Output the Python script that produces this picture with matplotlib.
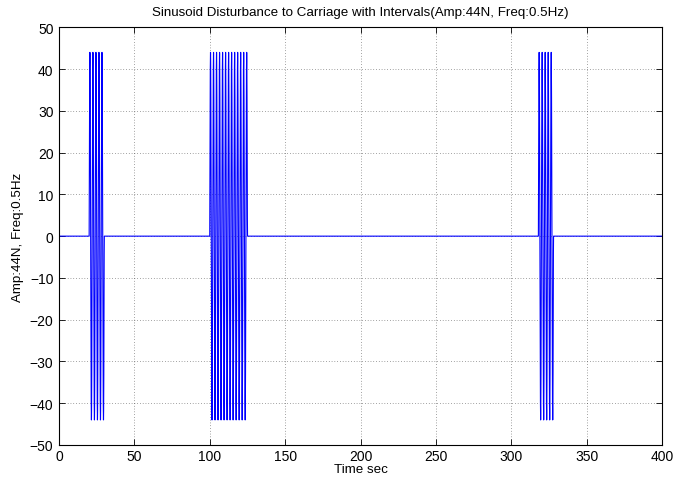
import numpy as np
import matplotlib
matplotlib.use("Agg")
import matplotlib.pyplot as plt

# Data
burst_start = [20, 100, 318]   # s
burst_end = [30, 125, 328]     # s
amplitude = 44.0               # N
frequency = 0.5                # Hz
t_end = 400
x_ticks = [0, 50, 100, 150, 200, 250, 300, 350, 400]
y_ticks = [-50, -40, -30, -20, -10, 0, 10, 20, 30, 40, 50]

plt.rcParams['font.family'] = ['Liberation Sans', 'DejaVu Sans']

t = np.arange(0, t_end + 1e-9, 0.01)
signal = np.zeros_like(t)
for s, e in zip(burst_start, burst_end):
    m = (t >= s) & (t <= e)
    signal[m] = amplitude * np.sin(2 * np.pi * frequency * (t[m] - s))

fig = plt.figure(figsize=(6.75, 4.85), dpi=100)
ax = fig.add_axes([59 / 675, 1 - 446 / 485, 603 / 675, (446 - 28.3) / 485])
ax.plot(t, signal, color=(0, 0, 1), linewidth=0.8)
ax.set_xlim(0, 400)
ax.set_ylim(-50, 50)
ax.set_xticks(x_ticks)
ax.set_yticks(y_ticks)
ax.grid(True, linestyle=(0, (1, 3)), color='black', linewidth=0.5, alpha=0.7)
ax.tick_params(direction='in', top=True, right=True, labelsize=10, length=4, width=0.6)
ax.tick_params(axis='x', pad=3)
ax.tick_params(axis='y', pad=4)
for sp in ax.spines.values():
    sp.set_linewidth(0.8)
ax.set_title('Sinusoid Disturbance to Carriage with Intervals(Amp:44N, Freq:0.5Hz)', fontsize=9.6, pad=9)
ax.set_xlabel('Time sec', fontsize=9.6, labelpad=0)
ax.set_ylabel('Amp:44N, Freq:0.5Hz', fontsize=9.6, labelpad=4)
fig.savefig('out.png', dpi=100)
